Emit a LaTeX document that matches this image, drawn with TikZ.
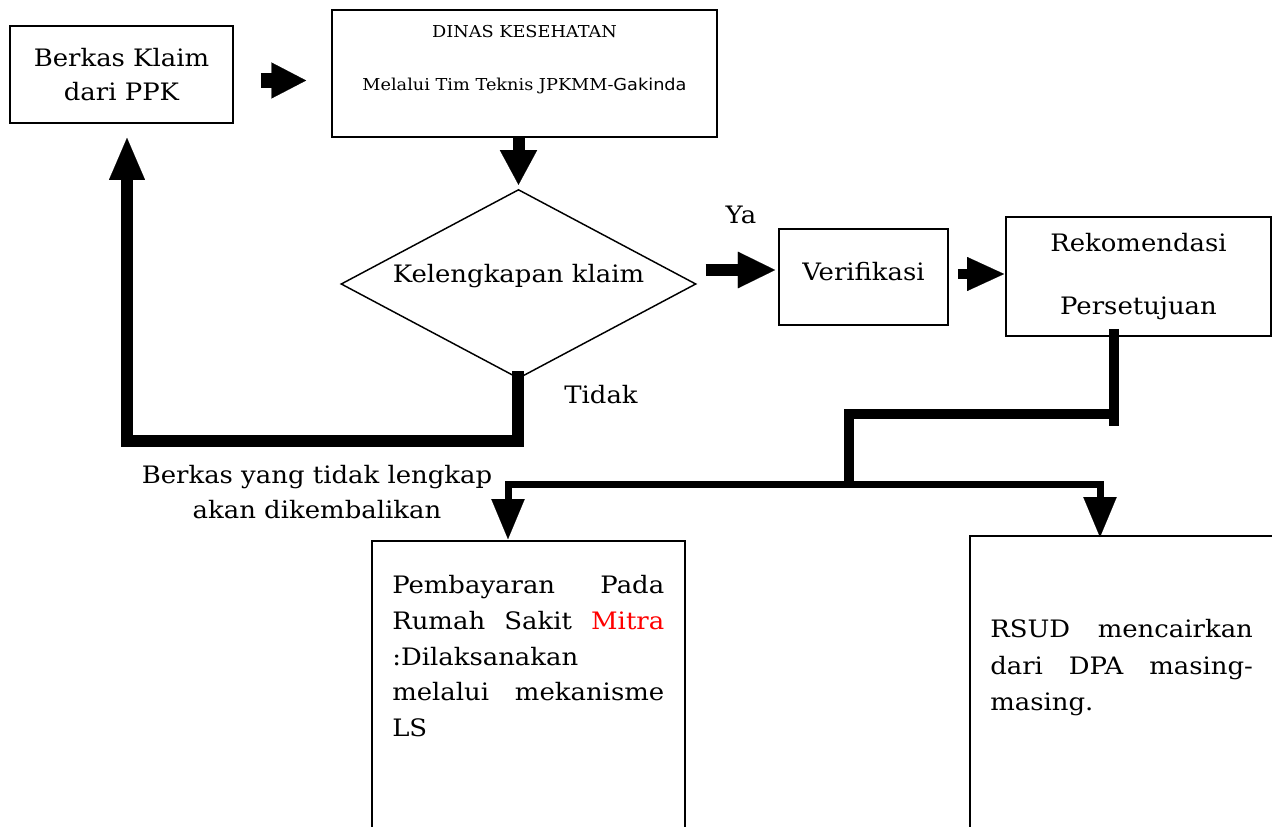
\documentclass[tikz,border=0pt]{standalone}
\usepackage{fontspec}
\setmainfont[FakeStretch=1.08]{DejaVu Serif}
\newfontfamily\sansf[FakeStretch=1.08]{DejaVu Sans}
\usetikzlibrary{shapes.geometric,arrows.meta,calc}
\begin{document}
\begin{tikzpicture}[x=0.75pt,y=-0.75pt,
  box/.style={draw,line width=1.3pt,rectangle,inner sep=0pt},
  big/.style={font=\fontsize{18}{26}\selectfont},
  small/.style={font=\fontsize{12.3}{14}\selectfont},
  fatA/.style={line width=11pt,-{Triangle[length=26pt,width=27pt,line width=0.1pt]}},
  fatB/.style={line width=9pt,-{Triangle[length=26pt,width=28pt,line width=0.1pt]}},
  fatC/.style={line width=9pt,-{Triangle[length=28pt,width=27.5pt,line width=0.1pt]}},
  fatD/.style={line width=7.5pt,-{Triangle[length=27.75pt,width=25.5pt,line width=0.1pt]}},
  fatE/.style={line width=9pt,line join=miter,-{Triangle[length=31.5pt,width=27pt,line width=0.1pt]}},
  fatF/.style={line width=5.25pt,line join=miter,-{Triangle[length=30pt,width=25pt,line width=0.1pt]}},
  bar/.style={line width=7.5pt,line join=miter},
]
\useasboundingbox (0,0) rectangle (1272,827);
\clip (0,0) rectangle (1272,827);

% boxes
\node[box,big,minimum width=167.25pt,minimum height=72.75pt,align=center] (b1) at (121.5,74.5) {Berkas Klaim\\dari PPK};
\node[box,minimum width=288.75pt,minimum height=95.25pt] (b2) at (524.5,73.5) {};
\node[small] (b2t1) at ($(b2.north)+(0,22)$) {DINAS KESEHATAN};
\node[small] (b2t2) at ($(b2.north)+(0,77)$) {Melalui Tim Teknis JPKMM-{\sansf Gakinda}};
\node[draw,line width=1.1pt,diamond,aspect=1.88,inner sep=0pt,minimum width=266.25pt,minimum height=141.75pt,big,text depth=16pt] (d) at (518.5,284) {Kelengkapan klaim};
\node[box,big,minimum width=126.75pt,minimum height=72pt,text depth=9pt] (v) at (863.5,277) {Verifikasi};
\node[box,minimum width=198.75pt,minimum height=89.25pt,align=center,font=\fontsize{18}{47}\selectfont] (r) at (1138.5,276.5) {Rekomendasi\\Persetujuan};
\node[box,minimum width=234.75pt,minimum height=240pt] (p) at (528.5,701) {};
\node[box,minimum width=240pt,minimum height=240pt] (q) at (1130,696) {};

% labels
\node[big] (ya) at (741,215) {Ya};
\node[big] (tidak) at (601,395) {Tidak};
\node[align=center,font=\fontsize{18}{26.25}\selectfont] (back) at (317,492) {Berkas yang tidak lengkap\\akan dikembalikan};

\node[anchor=north west,inner sep=0pt,align=left,font=\fontsize{18}{26.85}\selectfont] (pt) at (392,575) {%
\makebox[204pt][s]{Pembayaran Pada}\\
\makebox[204pt][s]{Rumah Sakit \textcolor{red}{Mitra}}\\
:Dilaksanakan\\
\makebox[204pt][s]{melalui mekanisme}\\
LS};
\node[anchor=north west,inner sep=0pt,align=left,font=\fontsize{18}{27.4}\selectfont] (qt) at (990,619) {%
\makebox[197pt][s]{RSUD mencairkan}\\
\makebox[197pt][s]{dari DPA masing-}\\
masing.};

% connectors
\draw[fatA] ($(b1.east)+(27,6)$) -- ($(b2.west)+(-25,7)$);
\draw[fatB] (d.north |- b2.south) -- ($(d.north)+(0,-4)$);
\coordinate (yaE) at ($(v.west)+(-3,-7)$);
\coordinate (yaS) at ($(d.east)+(9,0)$);
\draw[fatC] (yaS |- yaE) -- (yaE);
\draw[fatD] ($(v.east)+(9,-3)$) -- ($(r.west)+(-1,-2.5)$);
\draw[fatE] ($(d.south)+(-1,-8)$) -- ++(0,70) -| ($(b1.south)+(5.5,14)$);
\draw[bar] ($(r.south)+(-24.5,-8)$) -- ++(0,97);
\draw[bar] ($(r.south)+(-24.5,77)$) -| (849,487);
\coordinate (j) at (849,484);
\draw[fatF] (j) -| ($(p.north)+(-20.5,-1)$);
\draw[fatF] (j) -| ($(q.north)+(-30,2)$);
\end{tikzpicture}
\end{document}
